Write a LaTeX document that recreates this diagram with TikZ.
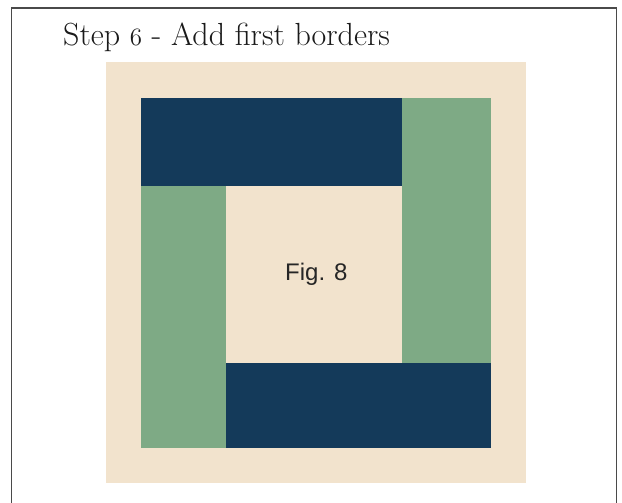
\documentclass[tikz,border=0pt]{standalone}
\usepackage{fontspec}
\newfontfamily\figfont{Liberation Sans}
\newcommand{\osnumsix}{{\fontencoding{OML}\fontfamily{cmm}\fontseries{m}\fontshape{it}\selectfont 6}}
\definecolor{quiltbeige}{HTML}{F2E3CD}
\definecolor{quiltnavy}{HTML}{143A5A}
\definecolor{quiltgreen}{HTML}{7EAA85}
\definecolor{framegray}{HTML}{4A4A4A}
\definecolor{titleink}{HTML}{1A1A1A}
\begin{document}
\begin{tikzpicture}[x=1pt,y=-1pt]
\useasboundingbox (0,0) rectangle (622,503);
\draw[framegray,line width=1.6pt] (11.5,505) -- (11.5,8) -- (616.5,8) -- (616.5,505);
\node[titleink,anchor=base west,inner sep=0pt,font=\fontsize{32}{38}\selectfont] (title) at (63,45.5) {Step \osnumsix{} - Add first borders};
\fill[quiltbeige] (106,62) rectangle (526,483);
\fill[quiltnavy] (141,98) rectangle (402,186);
\fill[quiltgreen] (402,98) rectangle (491,363);
\fill[quiltnavy] (226,363) rectangle (491,448);
\fill[quiltgreen] (141,186) rectangle (226,448);
\node[anchor=base,inner sep=0pt,font=\figfont\fontsize{24}{28}\selectfont,black!85] (fig) at (316.3,280.7) {Fig. 8};
\end{tikzpicture}
\end{document}
